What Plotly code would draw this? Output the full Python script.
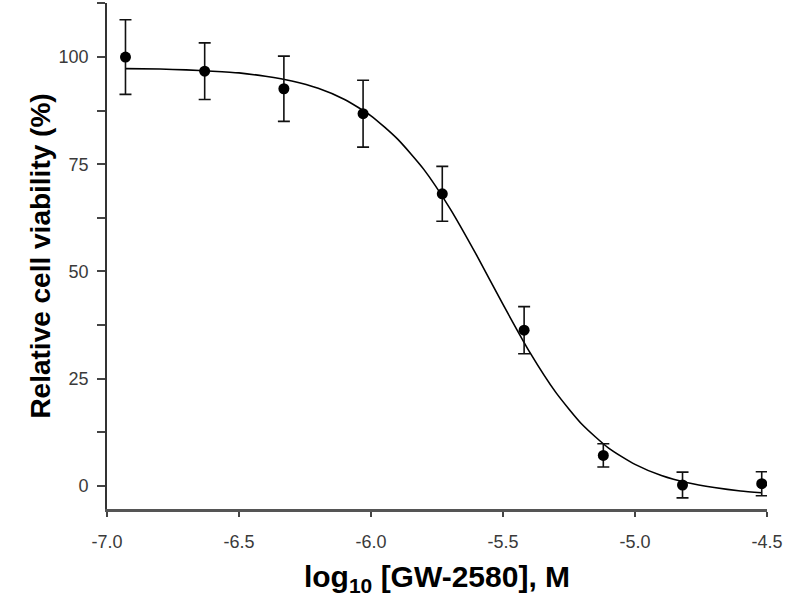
import plotly.graph_objects as go

# measured data points
log_conc = [-6.93, -6.63, -6.33, -6.03, -5.73, -5.42, -5.12, -4.82, -4.52]
viability = [100.0, 96.7, 92.6, 86.8, 68.1, 36.3, 7.1, 0.2, 0.5]
sem = [8.7, 6.6, 7.6, 7.8, 6.4, 5.5, 2.7, 3.0, 2.8]

# fitted curve
curve_x = [-6.93, -6.8, -6.7, -6.6, -6.5, -6.4, -6.3, -6.2, -6.1, -6.0, -5.9, -5.8,
           -5.7, -5.6, -5.5, -5.4, -5.3, -5.2, -5.1, -5.0, -4.9, -4.8, -4.7, -4.6, -4.52]
curve_y = [97.3, 97.2, 97.0, 96.7, 96.3, 95.5, 94.4, 92.7, 90.1, 86.3, 80.9, 73.8,
           64.6, 53.8, 42.3, 31.3, 21.8, 14.3, 8.8, 5.0, 2.4, 0.7, -0.4, -1.2, -1.6]

x_ticks = [-7.0, -6.5, -6.0, -5.5, -5.0, -4.5]
x_labels = ["-7.0", "-6.5", "-6.0", "-5.5", "-5.0", "-4.5"]
y_ticks = [0, 25, 50, 75, 100]
y_minor = [12.5, 37.5, 62.5, 87.5, 112.5]

fig = go.Figure()
fig.add_trace(go.Scatter(
    x=curve_x, y=curve_y, mode="lines",
    line=dict(color="black", width=1.6, shape="spline", smoothing=0.6),
    hoverinfo="skip", showlegend=False))
fig.add_trace(go.Scatter(
    x=log_conc, y=viability, mode="markers",
    marker=dict(color="black", size=11),
    error_y=dict(type="data", array=sem, visible=True, color="#111", thickness=1.6, width=6),
    showlegend=False))

tickfont = dict(family="Liberation Sans, Arial", size=18, color="#3a3a3a")

fig.update_layout(
    width=800, height=600,
    margin=dict(l=107, r=33, t=3, b=91),
    plot_bgcolor="white", paper_bgcolor="white",
    xaxis=dict(
        range=[-7.0, -4.5], tickvals=x_ticks, ticktext=x_labels,
        showgrid=False, zeroline=False, automargin=False,
        showline=True, linecolor="#555", linewidth=2.5,
        ticks="outside", ticklen=5, tickwidth=1.5, tickcolor="#444",
        tickfont=tickfont, ticklabelstandoff=10,
        title=dict(text="<b>log<sub>10</sub> [GW-2580], M</b>",
                   font=dict(family="Liberation Sans, Arial", size=30, color="black"), standoff=15),
    ),
    yaxis=dict(
        range=[-5.4, 112.6], tickvals=y_ticks,
        showgrid=False, zeroline=False, automargin=False,
        showline=True, linecolor="#333", linewidth=1.8,
        ticks="outside", ticklen=8, tickwidth=1.5, tickcolor="#444",
        minor=dict(tickvals=y_minor, ticks="outside", ticklen=8, tickwidth=1.5, tickcolor="#444"),
        tickfont=tickfont, ticklabelstandoff=5,
        title=dict(text="<b>Relative cell viability (%)</b>",
                   font=dict(family="Liberation Sans, Arial", size=28, color="black"), standoff=0),
    ),
)

fig.write_html("out.html", config={"displayModeBar": False},
               post_script="document.body.style.margin='0px';")
